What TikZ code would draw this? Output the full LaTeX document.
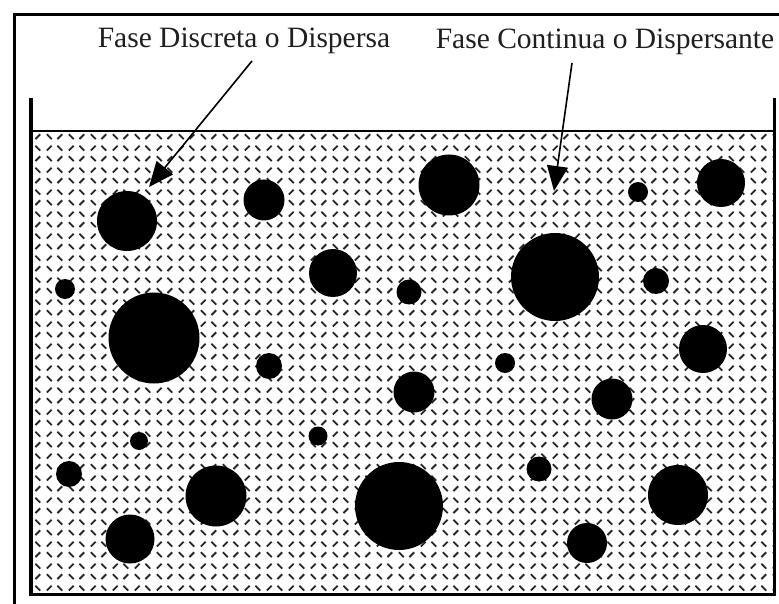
\documentclass[tikz,border=0pt]{standalone}
\usepackage{fontspec}
\setmainfont{Liberation Serif}
\usetikzlibrary{arrows.meta,patterns.meta}
\tikzdeclarepattern{
  name=divot,
  type=colored,
  bounding box={(0pt,0pt) and (22pt,22pt)},
  tile size={(22pt,22pt)},
  code={
    \draw[line width=1.9pt, black!85, line cap=butt]
      (3pt,8pt) -- (8pt,3pt)
      (14pt,3pt) -- (19pt,8pt)
      (3pt,14pt) -- (8pt,19pt)
      (14pt,19pt) -- (19pt,14pt);
  }
}
\tikzset{
  drop/.style={circle, fill=black, draw=none, inner sep=0pt, outer sep=0pt, minimum size=#1},
  wall/.style={line width=3.5pt, black},
  surface/.style={line width=2.5pt, black},
  frameline/.style={line width=3pt, black},
  arrowline/.style={line width=1.6pt, black, -{Triangle[length=25pt,width=21pt]}},
  lab/.style={font=\fontsize{29.5}{35}\selectfont, inner sep=0pt, anchor=base, text=black!88}
}
\begin{document}
\begin{tikzpicture}[x=1pt,y=-1pt]
\useasboundingbox (0,0) rectangle (779,604);
\clip (0,0) rectangle (779,604);
\fill[white] (0,0) rectangle (779,604);
% outer frame (cut by the picture edges)
\draw[frameline] (14.5,620) -- (14.5,14.5) -- (800,14.5);
% liquid
\fill[pattern=divot] (31,131) rectangle (774.5,594.5);
% drops
\node[drop=60] (c1) at (127,221) {};
\node[drop=41] (c2) at (264,200) {};
\node[drop=61] (c3) at (449,185) {};
\node[drop=48] (c4) at (721,183) {};
\node[drop=20] (c5) at (638,192) {};
\node[drop=88] (c6) at (555,277) {};
\node[drop=48] (c7) at (333,273) {};
\node[drop=25] (c8) at (409,292) {};
\node[drop=20] (c9) at (65,289) {};
\node[drop=91] (c10) at (154,338) {};
\node[drop=26] (c11) at (656,281) {};
\node[drop=48] (c12) at (703,349) {};
\node[drop=26] (c13) at (269,366) {};
\node[drop=20] (c14) at (505,363) {};
\node[drop=41] (c15) at (414,392) {};
\node[drop=41] (c16) at (612,399) {};
\node[drop=18] (c17) at (139,441) {};
\node[drop=19] (c18) at (318,436) {};
\node[drop=26] (c19) at (69,474) {};
\node[drop=61] (c20) at (216,496) {};
\node[drop=88] (c21) at (399,506) {};
\node[drop=25] (c22) at (539,469) {};
\node[drop=60] (c23) at (678,495) {};
\node[drop=49] (c24) at (130,539) {};
\node[drop=40] (c25) at (587,543) {};
% container
\draw[surface] (31,131) -- (774.5,131);
\draw[wall] (31,98) -- (31,594.5) -- (774.5,594.5) -- (774.5,98);
% labels
\node[lab] (lab1) at (244,48) {Fase Discreta o Dispersa};
\node[lab] (lab2) at (605,49) {Fase Continua o Dispersante};
\coordinate (s1) at (252,61);
\coordinate (t1) at (149,187);
\coordinate (s2) at (572,63);
\coordinate (t2) at (554,191);
\draw[arrowline] (s1) -- (t1);
\draw[arrowline] (s2) -- (t2);
\end{tikzpicture}
\end{document}
